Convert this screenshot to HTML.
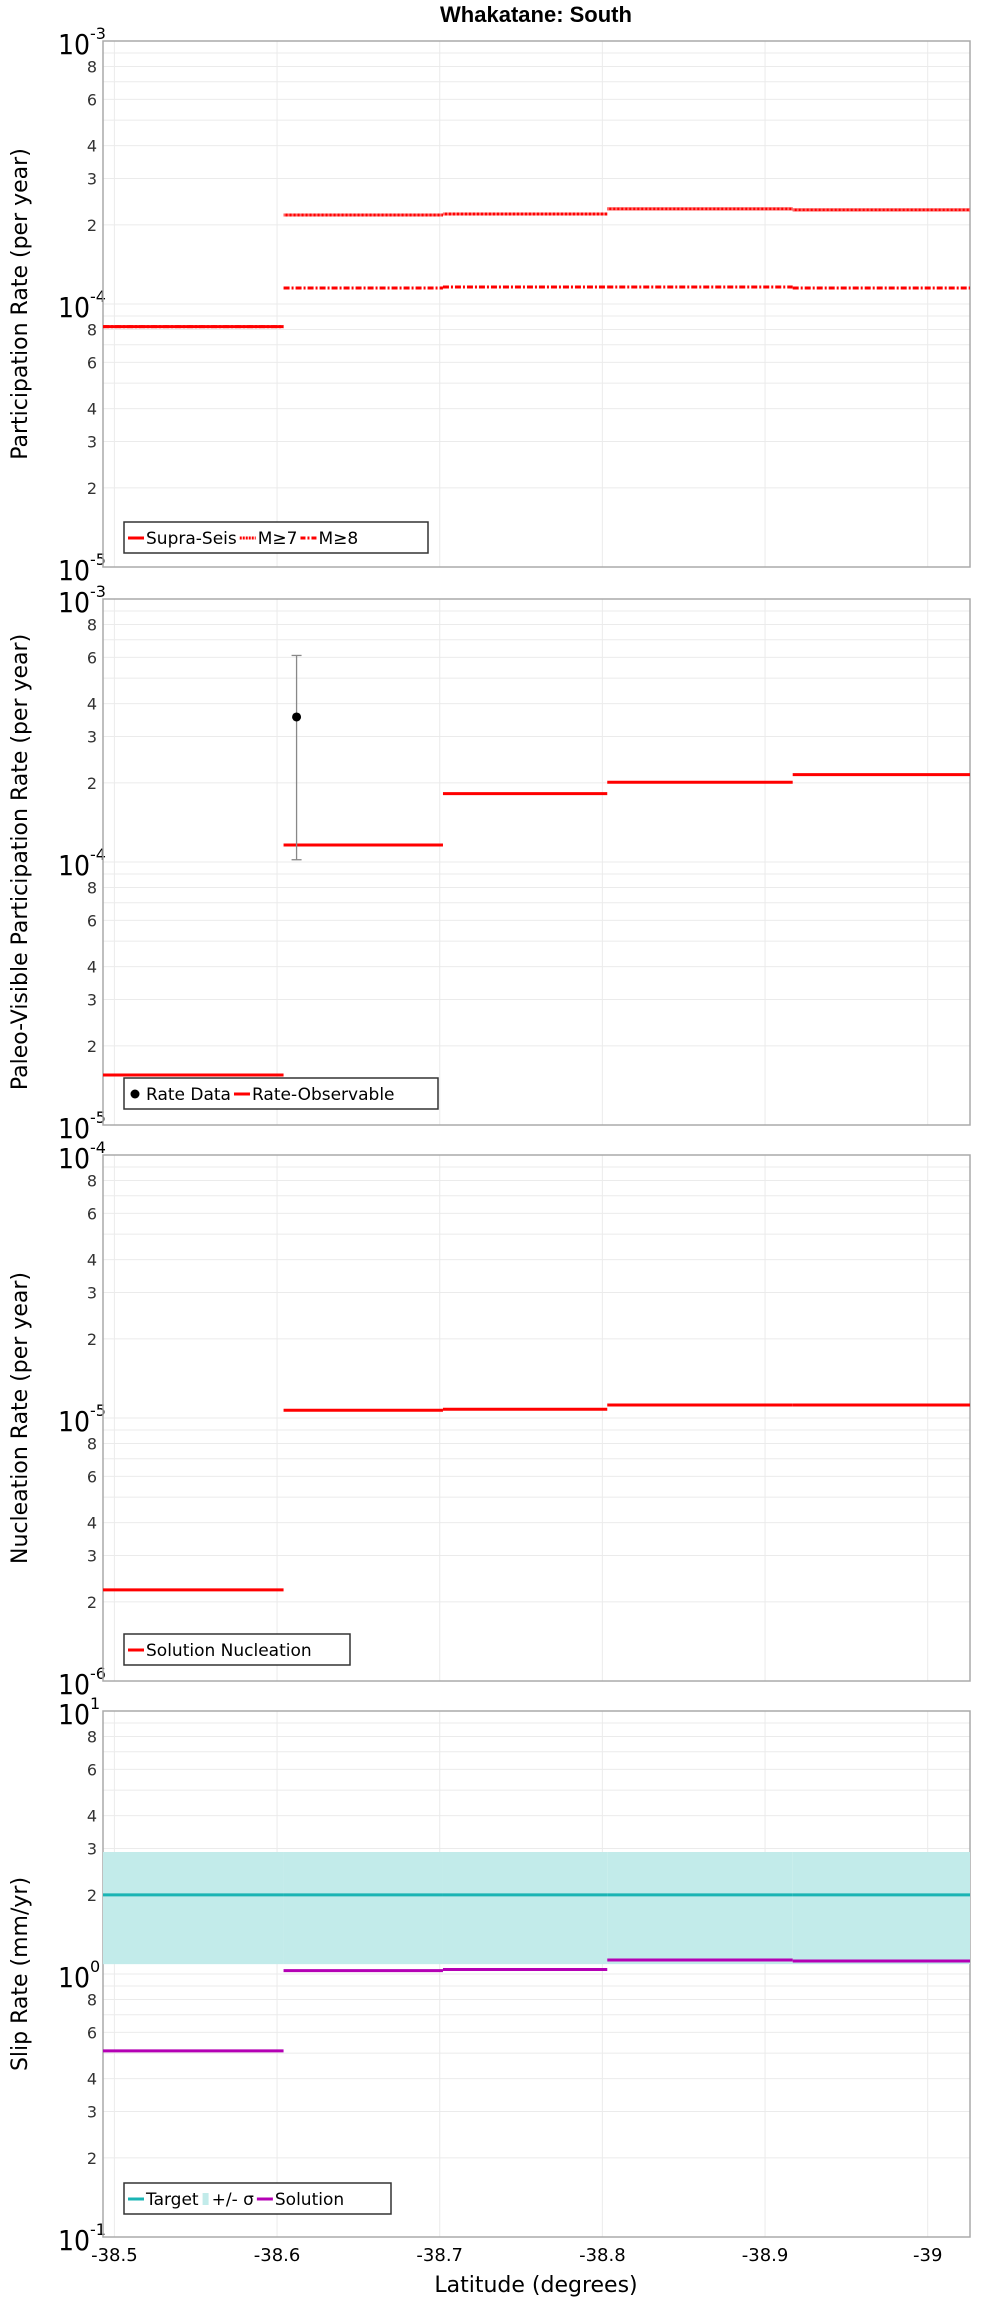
<!DOCTYPE html>
<html><head><meta charset="utf-8">
<style>
html,body{margin:0;padding:0;background:#fff;}
svg{display:block;font-family:"DejaVu Sans","Liberation Sans",sans-serif;}
</style></head>
<body>
<svg id="chart" width="1000" height="2300" viewBox="0 0 1000 2300" xmlns="http://www.w3.org/2000/svg">
<text x="536" y="22" text-anchor="middle" font-size="22" font-weight="bold" font-family="Liberation Sans, sans-serif">Whakatane: South</text>
<text x="536" y="2292" text-anchor="middle" font-size="22">Latitude (degrees)</text>
</svg>
<script>
// ---- data ----
const segStarts = [-38.493, -38.604, -38.702, -38.803, -38.917];
const segEnds   = [-38.604, -38.702, -38.803, -38.917, -39.026];
const xTicks = [-38.5, -38.6, -38.7, -38.8, -38.9, -39];
const xTickLabels = ["-38.5", "-38.6", "-38.7", "-38.8", "-38.9", "-39"];
const supraSeis = [8.2e-5, 2.18e-4, 2.2e-4, 2.3e-4, 2.28e-4];
const mGe7 = [8.2e-5, 2.18e-4, 2.2e-4, 2.3e-4, 2.28e-4];
const mGe8 = [8.2e-5, 1.15e-4, 1.16e-4, 1.16e-4, 1.15e-4];
const rateObservable = [1.55e-5, 1.16e-4, 1.82e-4, 2.01e-4, 2.15e-4];
const rateDataLat = [-38.612];
const rateDataVal = [3.56e-4];
const rateDataLow = [1.02e-4];
const rateDataHigh = [6.1e-4];
const nucleation = [2.22e-6, 1.07e-5, 1.08e-5, 1.12e-5, 1.12e-5];
const slipTarget = [2.0, 2.0, 2.0, 2.0, 2.0];
const slipLow = [1.09, 1.09, 1.09, 1.09, 1.09];
const slipHigh = [2.91, 2.91, 2.91, 2.91, 2.91];
const slipSolution = [0.51, 1.03, 1.04, 1.13, 1.12];

const NS = "http://www.w3.org/2000/svg";
const svg = document.getElementById('chart');
const L = 103, R = 970, PH = 526;
const xMin = -38.493, xMax = -39.026;
function xs(v){ return L + (v - xMin) / (xMax - xMin) * (R - L); }
function mk(tag, attrs, parent){
  const e = document.createElementNS(NS, tag);
  for (const k in attrs) e.setAttribute(k, attrs[k]);
  (parent || svg).appendChild(e);
  return e;
}
function makeY(top, minExp, maxExp){
  return v => top + (maxExp - Math.log10(v)) / (maxExp - minExp) * PH;
}

function panel(name, top, minExp, maxExp, title){
  const g = mk('g', {});
  
  
  const ys = makeY(top, minExp, maxExp);
  for (let e = minExp; e < maxExp; e++) {
    for (let m = 1; m <= 9; m++) {
      const v = m * Math.pow(10, e);
      const y = ys(v);
      const gl = mk('line', {x1:L, x2:R, y1:y, y2:y, stroke:'#ebebeb', 'stroke-width':1}, g);
      
      
      if (m >= 2 && m != 5 && m != 7 && m != 9) {
        const t = mk('text', {x:L-6, y:y+6, 'text-anchor':'end', 'font-size':16, fill:'#333'}, g);
        
        
        t.textContent = String(m);
      }
    }
  }
  xTicks.forEach(v => {
    const gl = mk('line', {x1:xs(v), x2:xs(v), y1:top, y2:top+PH, stroke:'#ebebeb', 'stroke-width':1}, g);
    
    
  });
  for (let e = minExp; e <= maxExp; e++) {
    const y = ys(Math.pow(10, e));
    const t = mk('text', {x:L-13, y:y+13, 'text-anchor':'end', 'font-size':28, fill:'#000', 'font-family':'DejaVu Sans Condensed, DejaVu Sans, sans-serif'}, g);
    
    
    t.textContent = '10';
    const s = mk('text', {x:L-13, y:y-2, 'text-anchor':'start', 'font-size':16, fill:'#000'}, g);
    
    
    s.textContent = String(e);
  }
  const fr = mk('rect', {x:L, y:top, width:R-L, height:PH, fill:'none', stroke:'#aaa', 'stroke-width':1.5}, g);
  
  
  const cy = top + PH/2;
  const yt = mk('text', {x:0, y:0, transform:'translate(27,'+cy+') rotate(-90)', 'text-anchor':'middle', 'font-size':22}, g);
  
  
  yt.textContent = title;
  return {g, ys};
}
function steps(p, vals, color, dash, name){
  vals.forEach((v, i) => {
    const a = {x1:xs(segStarts[i]), x2:xs(segEnds[i]), y1:p.ys(v), y2:p.ys(v), stroke:color, 'stroke-width':3};
    if (dash) a['stroke-dasharray'] = dash;
    const l = mk('line', a, p.g);
    
    
  });
}
function legend(p, top, w, items){
  const g = mk('g', {}, p.g);
  
  
  const x0 = 124, y0 = top;
  mk('rect', {x:x0, y:y0, width:w, height:31, fill:'#fff', stroke:'#333', 'stroke-width':1.5}, g);
  let x = x0 + 3;
  items.forEach(it => {
    const e = mk('g', {}, g);
    
    
    if (it.type === 'dot') mk('circle', {cx:x+8, cy:y0+16, r:4.5, fill:'#000'}, e);
    else if (it.type === 'box') mk('rect', {x:x+2, y:y0+10, width:6, height:12, fill:it.color}, e);
    else { const a = {x1:x+1, x2:x+17, y1:y0+16, y2:y0+16, stroke:it.color, 'stroke-width':3}; if (it.dash) a['stroke-dasharray']=it.dash; mk('line', a, e); }
    const off = (it.type==='box'?11:19);
    const t = mk('text', {x:x+off, y:y0+22, 'font-size':17}, e);
    t.textContent = it.label;
    let tw = 0;
    try { tw = t.getComputedTextLength(); } catch(err) { tw = it.label.length * 10; }
    x += off + tw + 2;
  });
}

const p1 = panel('participation', 41, -5, -3, 'Participation Rate (per year)');
steps(p1, supraSeis, '#f00', null, 'supra-seis');
steps(p1, mGe7, '#f66', '2,2', 'm-ge-7');
steps(p1, mGe8, '#f00', '6,2,2,2', 'm-ge-8');
legend(p1, 522, 304, [{label:'Supra-Seis', color:'#f00'},{label:'M≥7', color:'#f00', dash:'2,1'},{label:'M≥8', color:'#f00', dash:'5,2,2,2'}]);

const p2 = panel('paleo', 599, -5, -3, 'Paleo-Visible Participation Rate (per year)');
steps(p2, rateObservable, '#f00', null, 'rate-observable');
rateDataLat.forEach((lat, i) => {
  const x = xs(lat);
  const eb = mk('g', {}, p2.g);
  
  
  mk('line', {x1:x, x2:x, y1:p2.ys(rateDataHigh[i]), y2:p2.ys(rateDataLow[i]), stroke:'#888', 'stroke-width':1.3}, eb);
  mk('line', {x1:x-5, x2:x+5, y1:p2.ys(rateDataHigh[i]), y2:p2.ys(rateDataHigh[i]), stroke:'#888', 'stroke-width':1.3}, eb);
  mk('line', {x1:x-5, x2:x+5, y1:p2.ys(rateDataLow[i]), y2:p2.ys(rateDataLow[i]), stroke:'#888', 'stroke-width':1.3}, eb);
  const c = mk('circle', {cx:x, cy:p2.ys(rateDataVal[i]), r:4.5, fill:'#000'}, p2.g);
  
  
});
legend(p2, 1078, 314, [{label:'Rate Data', type:'dot'},{label:'Rate-Observable', color:'#f00'}]);

const p3 = panel('nucleation', 1155, -6, -4, 'Nucleation Rate (per year)');
steps(p3, nucleation, '#f00', null, 'solution-nucleation');
legend(p3, 1634, 226, [{label:'Solution Nucleation', color:'#f00'}]);

const p4 = panel('slip', 1711, -1, 1, 'Slip Rate (mm/yr)');
slipLow.forEach((v, i) => {
  const r = mk('rect', {x:xs(segStarts[i]), y:p4.ys(slipHigh[i]), width:xs(segEnds[i])-xs(segStarts[i]), height:p4.ys(v)-p4.ys(slipHigh[i]), fill:'#c2ebea'}, p4.g);
  
  
});
steps(p4, slipTarget, '#1ab4b4', null, 'target');
steps(p4, slipSolution, '#b400b4', null, 'solution');
legend(p4, 2183, 267, [{label:'Target', color:'#1ab4b4'},{label:'+/- σ', type:'box', color:'#c2ebea'},{label:'Solution', color:'#b400b4'}]);

xTicks.forEach((v, i) => {
  const t = mk('text', {x:xs(v), y:2261, 'text-anchor':'middle', 'font-size':18});
  
  
  t.textContent = xTickLabels[i];
});
</script>
</body></html>
